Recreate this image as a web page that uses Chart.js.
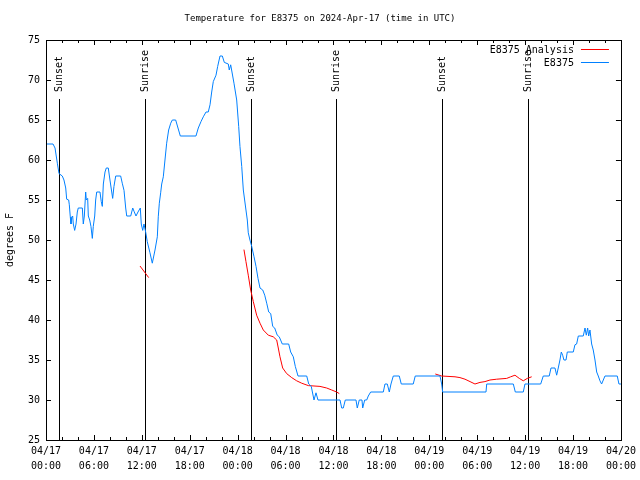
<!DOCTYPE html>
<html>
<head>
<meta charset="utf-8">
<title>Temperature for E8375</title>
<script src="https://cdn.jsdelivr.net/npm/chart.js@4.4.1/dist/chart.umd.min.js"></script>
<style>
  html, body { margin:0; padding:0; background:#fff; }
  #wrap { width:640px; height:480px; }
</style>
</head>
<body>
<div id="wrap"><canvas id="tempChart" width="640" height="480"></canvas></div>
<script>
// ================== DATA (hours since 2024-04-17 00:00 UTC, deg F) ==================
const obsHours = [
  0, 0.88, 1.13, 1.42, 1.63, 2.04, 2.25, 2.47, 2.59, 2.84, 2.92, 3.04, 3.13, 3.22, 3.34, 3.42,
  3.59, 3.76, 3.92, 4.04, 4.55, 4.67, 4.80, 4.97, 5.05, 5.22, 5.30, 5.47, 5.63, 5.80, 5.92,
  6.10, 6.22, 6.35, 6.76, 6.92, 7.05, 7.18, 7.39, 7.55, 7.80, 8.01, 8.23, 8.35, 8.51, 8.73,
  9.35, 9.55, 9.77, 9.98, 10.11, 10.61, 10.86, 11.02, 11.27, 11.52, 11.81, 11.93, 12.11, 12.27,
  12.48, 12.68, 13.02, 13.31, 13.65, 13.94, 14.06, 14.19, 14.36, 14.49, 14.69, 14.90, 15.11,
  15.36, 15.62, 15.82, 16.24, 16.53, 16.82, 18.78, 19.07, 19.41, 19.70, 20.04, 20.32, 20.54,
  20.75, 20.95, 21.29, 21.50, 21.79, 22.08, 22.33, 22.83, 22.95, 23.13, 23.29, 23.54, 23.88,
  24.13, 24.29, 24.51, 24.71, 25.04, 25.21, 25.33, 25.54, 25.76, 26.05, 26.30, 26.55, 26.80,
  27.14, 27.39, 27.64, 27.89, 28.14, 28.39, 28.64, 28.96, 29.21, 29.59, 30.39, 30.64, 30.97,
  31.22, 31.56, 32.65, 32.90, 33.22, 33.56, 33.81, 34.06, 36.82, 37.03, 37.23, 37.48, 38.82,
  38.98, 39.23, 39.57, 39.66, 39.91, 40.16, 40.36, 40.66, 42.24, 42.45, 42.74, 42.99, 43.20,
  43.49, 44.24, 44.49, 45.99, 46.24, 49.34, 49.55, 49.67, 55.10, 55.19, 58.52, 58.77, 59.77,
  59.98, 61.95, 62.27, 63.02, 63.24, 63.74, 63.95, 64.15, 64.36, 64.53, 64.70, 64.86, 65.12,
  65.28, 66.03, 66.24, 66.45, 66.66, 67.28, 67.50, 67.66, 67.83, 67.96, 68.12, 68.33, 68.53,
  68.75, 68.96, 69.16, 69.37, 69.58, 69.79, 70.00, 71.54, 71.75, 72
];
const obsTemps = [
  62, 62, 61.5, 59.6, 58.3, 58, 57.5, 56.5, 55.1, 55, 54.4, 52.9, 52, 52.8, 53, 52,
  51.2, 52, 53.5, 54, 54, 52, 53, 56, 55, 55.2, 53, 52.5, 51.7, 50.2, 51.7,
  53, 55, 56, 56, 54.8, 54.2, 57, 58.5, 59, 59, 57.5, 56, 55.2, 56.7, 58,
  58, 57.1, 56.2, 54, 53, 53, 54, 53.6, 53, 53.5, 54, 52, 51.2, 52,
  51, 49.8, 48.4, 47.1, 48.75, 50.4, 52.9, 54.6, 55.9, 57, 57.9, 60, 62.1,
  63.75, 64.6, 65, 65, 64, 63, 63, 64, 64.8, 65.4, 66, 66, 66.9,
  68.5, 69.8, 70.6, 71.7, 73, 73, 72.2, 72, 71.25, 71.9, 71, 69.6, 67.5,
  64.2, 61.7, 59.2, 56.25, 53.75, 52.5, 50.9, 50, 49.2, 47.9, 46.7, 45.2, 44,
  43.75, 43.1, 42.1, 41, 40.8, 39.2, 39, 38.1, 37.9, 37, 37, 36, 35.4,
  34.2, 33, 33, 32, 31.7, 30, 30.9, 30, 30, 29, 29, 30, 30,
  29, 30, 30, 29, 30, 30, 30.5, 31, 31, 32, 32, 31, 32,
  33, 33, 32, 32, 33, 33, 32, 31, 31, 32, 32, 31, 31,
  32, 32, 33, 33, 34, 34, 33.1, 34, 35, 36, 35.6, 35, 35,
  36, 36, 36.9, 37, 38, 38, 39, 38.1, 39, 38, 38.75, 37, 36.25,
  35, 33.5, 33, 32.4, 32, 32.5, 33, 33, 32, 32
];

// analysis: three separate runs, null breaks the line
const anaHours = [
  11.77, 12.86, 18,
  24.79, 25.04, 25.33, 25.63, 25.96, 26.38, 26.80, 27.21, 27.84, 28.46, 28.89, 29.09, 29.30,
  29.64, 30.14, 30.77, 31.39, 32.02, 32.85, 34.31, 35.15, 35.78, 36.40, 36.73, 42,
  48.75, 49.55, 51.22, 51.84, 52.47, 53.10, 53.72, 54.35, 54.97, 55.60, 56.44, 57.69, 58.19,
  58.73, 59.27, 59.77, 60.27, 60.82
];
const anaTemps = [
  46.75, 45.3, null,
  48.8, 47.3, 45.6, 43.75, 42.3, 40.6, 39.6, 38.75, 38.1, 37.9, 37.5, 36.5, 35.4,
  34, 33.3, 32.8, 32.4, 32.1, 31.8, 31.7, 31.5, 31.25, 31, 30.8, null,
  33.25, 33, 32.9, 32.8, 32.6, 32.3, 32, 32.2, 32.3, 32.5, 32.6, 32.7, 32.9,
  33.1, 32.7, 32.4, 32.7, 32.9
];

const sunHours  = [1.68, 12.43, 25.7, 36.35, 49.62, 60.4];
const sunLabels = ['Sunset', 'Sunrise', 'Sunset', 'Sunrise', 'Sunset', 'Sunrise'];

const xTickDates = ['04/17','04/17','04/17','04/17','04/18','04/18','04/18','04/18','04/19','04/19','04/19','04/19','04/20'];
const xTickTimes = ['00:00','06:00','12:00','18:00','00:00','06:00','12:00','18:00','00:00','06:00','12:00','18:00','00:00'];

// ================== HELPERS ==================
const FONT_FAMILY = '"DejaVu Sans Mono", "Liberation Mono", monospace';
const FONT = '10px ' + FONT_FAMILY;
const BLUE = '#0080ff', RED = '#ff0000';
const zip = (xs, ys) => xs.map((x, i) => ({ x, y: ys[i] }));
const crisp = v => Math.round(v) + 0.5;

// ================== GNUPLOT-LOOK DECORATIONS ==================
const gnuplotFrame = {
  id: 'gnuplotFrame',
  beforeDatasetsDraw(chart) {
    const { ctx, chartArea: a, scales: { x } } = chart;
    ctx.save();
    ctx.strokeStyle = '#000'; ctx.lineWidth = 1; ctx.fillStyle = '#000'; ctx.font = FONT;
    sunHours.forEach((h, i) => {
      const px = crisp(x.getPixelForValue(h));
      ctx.beginPath(); ctx.moveTo(px, a.top + 59); ctx.lineTo(px, a.bottom); ctx.stroke();
      ctx.save();
      ctx.translate(px, a.top + 52); ctx.rotate(-Math.PI / 2);
      ctx.textAlign = 'left'; ctx.textBaseline = 'middle';
      ctx.fillText(sunLabels[i], 0, 0);
      ctx.restore();
    });
    ctx.restore();
  },
  afterDatasetsDraw(chart) {
    const { ctx, chartArea: a, scales: { x, y } } = chart;
    ctx.save();
    ctx.strokeStyle = '#000'; ctx.lineWidth = 1;

    // border
    ctx.strokeRect(crisp(a.left), crisp(a.top), Math.round(a.right - a.left), Math.round(a.bottom - a.top));

    // inward ticks, mirrored; minor every 2h on x
    ctx.beginPath();
    for (let h = 0; h <= 72; h += 2) {
      const px = crisp(x.getPixelForValue(h)), len = h % 6 === 0 ? 5 : 3;
      ctx.moveTo(px, a.bottom); ctx.lineTo(px, a.bottom - len);
      ctx.moveTo(px, a.top);    ctx.lineTo(px, a.top + len);
    }
    for (let t = 25; t <= 75; t += 5) {
      const py = crisp(y.getPixelForValue(t));
      ctx.moveTo(a.left, py);  ctx.lineTo(a.left + 5, py);
      ctx.moveTo(a.right, py); ctx.lineTo(a.right - 5, py);
    }
    ctx.stroke();

    // title + y label
    ctx.fillStyle = '#000';
    ctx.textAlign = 'center'; ctx.textBaseline = 'middle';
    ctx.font = '9px ' + FONT_FAMILY;
    ctx.fillText('Temperature for E8375 on 2024-Apr-17 (time in UTC)', 320, 19);
    ctx.font = FONT;
    ctx.save();
    ctx.translate(10, 240); ctx.rotate(-Math.PI / 2);
    ctx.fillText('degrees F', 0, 0);
    ctx.restore();

    // legend (top right, inside)
    const rows = [['E8375 Analysis', RED], ['E8375', BLUE]];
    rows.forEach(([label, color], i) => {
      const ly = a.top + 10 + i * 13;
      ctx.textAlign = 'right'; ctx.fillStyle = '#000';
      ctx.fillText(label, a.right - 47, ly);
      ctx.strokeStyle = color;
      ctx.beginPath(); ctx.moveTo(a.right - 40, crisp(ly - 1)); ctx.lineTo(a.right - 12, crisp(ly - 1)); ctx.stroke();
    });
    ctx.restore();
  }
};

// ================== CHART ==================
new Chart(document.getElementById('tempChart'), {
  type: 'line',
  data: {
    datasets: [
      { label: 'E8375', data: zip(obsHours, obsTemps), borderColor: BLUE, borderWidth: 1, pointRadius: 0, tension: 0 },
      { label: 'E8375 Analysis', data: zip(anaHours, anaTemps), borderColor: RED, borderWidth: 1, pointRadius: 0, tension: 0, spanGaps: false }
    ]
  },
  options: {
    responsive: false, maintainAspectRatio: false, animation: false,
    layout: { padding: { top: 40, right: 19, bottom: 0, left: 0 } },
    plugins: { legend: { display: false }, tooltip: { enabled: false } },
    scales: {
      x: {
        type: 'linear', min: 0, max: 72,
        grid: { display: false, drawTicks: false }, border: { display: false },
        afterFit: s => { s.height = 40; },
        ticks: {
          stepSize: 6, autoSkip: false, maxRotation: 0, padding: 4, color: '#000',
          font: { family: FONT_FAMILY, size: 10, lineHeight: 1.5 },
          callback: v => { const i = Math.round(v / 6); return [xTickDates[i], xTickTimes[i]]; }
        }
      },
      y: {
        min: 25, max: 75,
        grid: { display: false, drawTicks: false }, border: { display: false },
        afterFit: s => { s.width = 46; },
        ticks: { stepSize: 5, padding: 6, color: '#000', font: { family: FONT_FAMILY, size: 10 } }
      }
    }
  },
  plugins: [gnuplotFrame]
});
</script>
</body>
</html>
